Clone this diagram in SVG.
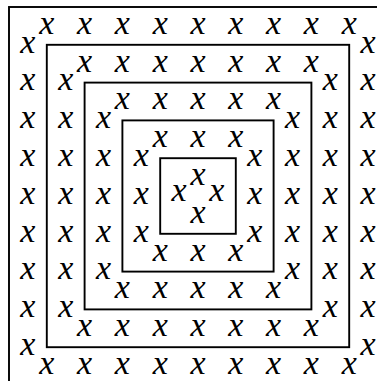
<svg xmlns="http://www.w3.org/2000/svg" width="377" height="381" viewBox="0 0 377 381">
<style>
rect.b{fill:none;stroke:#000;stroke-width:1.9}
text{font-family:"Liberation Serif","Times New Roman",serif;font-style:italic;font-size:34px;text-anchor:middle;fill:#000}
</style>
<rect width="377" height="381" fill="#fff"/>
<g id="boxes">
<rect class="b" x="9" y="7" width="378" height="378"/>
<rect class="b" x="46.8" y="44.8" width="302.4" height="302.4"/>
<rect class="b" x="84.6" y="82.6" width="226.8" height="226.8"/>
<rect class="b" x="122.4" y="120.4" width="151.2" height="151.2"/>
<rect class="b" x="160.2" y="158.2" width="75.6" height="75.6"/>
</g>
<g id="ring0">
<text x="46.8" y="33.7">x</text><text x="84.6" y="33.7">x</text><text x="122.4" y="33.7">x</text><text x="160.2" y="33.7">x</text><text x="198" y="33.7">x</text><text x="235.8" y="33.7">x</text><text x="273.6" y="33.7">x</text><text x="311.4" y="33.7">x</text><text x="349.2" y="33.7">x</text>
<text x="46.8" y="373.9">x</text><text x="84.6" y="373.9">x</text><text x="122.4" y="373.9">x</text><text x="160.2" y="373.9">x</text><text x="198" y="373.9">x</text><text x="235.8" y="373.9">x</text><text x="273.6" y="373.9">x</text><text x="311.4" y="373.9">x</text><text x="349.2" y="373.9">x</text>
<text x="27.9" y="52.6">x</text><text x="27.9" y="90.4">x</text><text x="27.9" y="128.2">x</text><text x="27.9" y="166">x</text><text x="27.9" y="203.8">x</text><text x="27.9" y="241.6">x</text><text x="27.9" y="279.4">x</text><text x="27.9" y="317.2">x</text><text x="27.9" y="355">x</text>
<text x="368.1" y="52.6">x</text><text x="368.1" y="90.4">x</text><text x="368.1" y="128.2">x</text><text x="368.1" y="166">x</text><text x="368.1" y="203.8">x</text><text x="368.1" y="241.6">x</text><text x="368.1" y="279.4">x</text><text x="368.1" y="317.2">x</text><text x="368.1" y="355">x</text>
</g>
<g id="ring1">
<text x="84.6" y="71.5">x</text><text x="122.4" y="71.5">x</text><text x="160.2" y="71.5">x</text><text x="198" y="71.5">x</text><text x="235.8" y="71.5">x</text><text x="273.6" y="71.5">x</text><text x="311.4" y="71.5">x</text>
<text x="84.6" y="336.1">x</text><text x="122.4" y="336.1">x</text><text x="160.2" y="336.1">x</text><text x="198" y="336.1">x</text><text x="235.8" y="336.1">x</text><text x="273.6" y="336.1">x</text><text x="311.4" y="336.1">x</text>
<text x="65.7" y="90.4">x</text><text x="65.7" y="128.2">x</text><text x="65.7" y="166">x</text><text x="65.7" y="203.8">x</text><text x="65.7" y="241.6">x</text><text x="65.7" y="279.4">x</text><text x="65.7" y="317.2">x</text>
<text x="330.3" y="90.4">x</text><text x="330.3" y="128.2">x</text><text x="330.3" y="166">x</text><text x="330.3" y="203.8">x</text><text x="330.3" y="241.6">x</text><text x="330.3" y="279.4">x</text><text x="330.3" y="317.2">x</text>
</g>
<g id="ring2">
<text x="122.4" y="109.3">x</text><text x="160.2" y="109.3">x</text><text x="198" y="109.3">x</text><text x="235.8" y="109.3">x</text><text x="273.6" y="109.3">x</text>
<text x="122.4" y="298.3">x</text><text x="160.2" y="298.3">x</text><text x="198" y="298.3">x</text><text x="235.8" y="298.3">x</text><text x="273.6" y="298.3">x</text>
<text x="103.5" y="128.2">x</text><text x="103.5" y="166">x</text><text x="103.5" y="203.8">x</text><text x="103.5" y="241.6">x</text><text x="103.5" y="279.4">x</text>
<text x="292.5" y="128.2">x</text><text x="292.5" y="166">x</text><text x="292.5" y="203.8">x</text><text x="292.5" y="241.6">x</text><text x="292.5" y="279.4">x</text>
</g>
<g id="ring3">
<text x="160.2" y="147.1">x</text><text x="198" y="147.1">x</text><text x="235.8" y="147.1">x</text>
<text x="160.2" y="260.5">x</text><text x="198" y="260.5">x</text><text x="235.8" y="260.5">x</text>
<text x="141.3" y="166">x</text><text x="141.3" y="203.8">x</text><text x="141.3" y="241.6">x</text>
<text x="254.7" y="166">x</text><text x="254.7" y="203.8">x</text><text x="254.7" y="241.6">x</text>
</g>
<g id="ring4">
<text x="198" y="184.9">x</text><text x="198" y="222.7">x</text><text x="179.1" y="201">x</text><text x="216.9" y="201">x</text>
</g>
</svg>
